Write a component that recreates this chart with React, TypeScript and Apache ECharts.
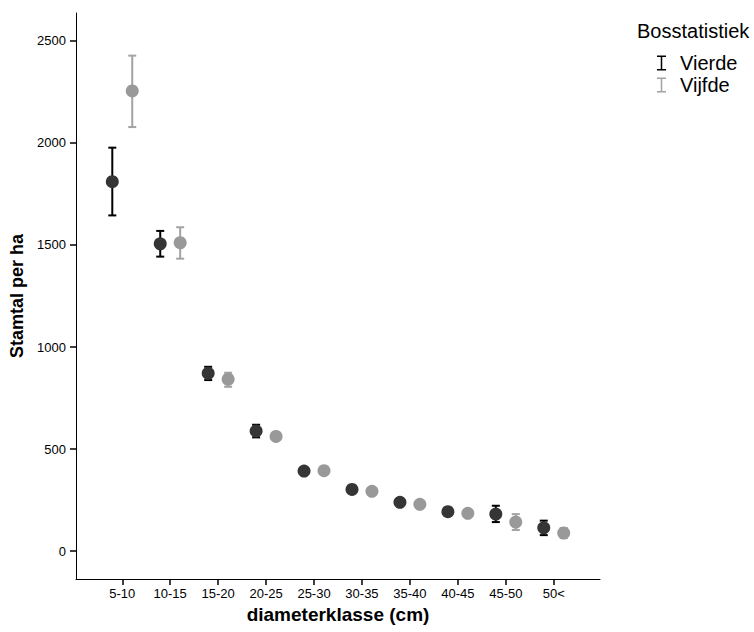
import React, { useEffect, useRef } from "react";
import * as echarts from "echarts";

const categories = ["5-10", "10-15", "15-20", "20-25", "25-30", "30-35", "35-40", "40-45", "45-50", "50<"];
const yTicks = [0, 500, 1000, 1500, 2000, 2500];

const vierdeMean = [1810, 1506, 871, 588, 392, 302, 239, 193, 181, 114];
const vierdeLow = [1645, 1443, 838, 557, 382, 292, 222, 183, 142, 78];
const vierdeHigh = [1977, 1569, 903, 619, 402, 312, 256, 203, 222, 149];

const vijfdeMean = [2255, 1511, 842, 562, 394, 293, 229, 185, 142, 88];
const vijfdeLow = [2078, 1433, 805, 550, 384, 283, 212, 172, 103, 64];
const vijfdeHigh = [2428, 1587, 874, 574, 404, 303, 246, 198, 181, 113];

const OFFSET = 0.208;
const FONT = "'Liberation Sans', Arial, sans-serif";

function errorRender(color: string) {
  return (params: any, api: any) => {
    const x = api.value(0);
    const lo = api.coord([x, api.value(1)]);
    const hi = api.coord([x, api.value(2)]);
    const w = 4;
    const style = { stroke: color, lineWidth: 2 };
    return {
      type: "group",
      children: [
        { type: "line", shape: { x1: lo[0], y1: lo[1], x2: hi[0], y2: hi[1] }, style },
        { type: "line", shape: { x1: lo[0] - w, y1: lo[1], x2: lo[0] + w, y2: lo[1] }, style },
        { type: "line", shape: { x1: hi[0] - w, y1: hi[1], x2: hi[0] + w, y2: hi[1] }, style },
      ],
    };
  };
}

const ibeam = "path://M0,0H9V1.5H5.25V13.5H9V15H0V13.5H3.75V1.5H0Z";

export default function App() {
  const ref = useRef<HTMLDivElement>(null);
  useEffect(() => {
    if (!ref.current) return;
    const chart = echarts.init(ref.current, undefined, { renderer: "svg" });
    const vierdeBars = categories.map((_, i) => [i - OFFSET, vierdeLow[i], vierdeHigh[i]]);
    const vijfdeBars = categories.map((_, i) => [i + OFFSET, vijfdeLow[i], vijfdeHigh[i]]);
    const vierdePts = categories.map((_, i) => [i - OFFSET, vierdeMean[i]]);
    const vijfdePts = categories.map((_, i) => [i + OFFSET, vijfdeMean[i]]);
    chart.setOption({
      animation: false,
      backgroundColor: "#ffffff",
      textStyle: { fontFamily: FONT },
      title: {
        text: "Bosstatistiek",
        left: 637,
        top: 21,
        padding: 0,
        textStyle: { fontSize: 20, fontWeight: "normal", color: "#000", fontFamily: FONT, lineHeight: 20 },
      },
      legend: {
        orient: "vertical",
        left: 657,
        top: 53,
        padding: 0,
        itemGap: 2,
        itemWidth: 9,
        itemHeight: 15,
        selectedMode: false,
        data: [
          { name: "Vierde", icon: ibeam },
          { name: "Vijfde", icon: ibeam },
        ],
        textStyle: { fontSize: 20, color: "#000", fontFamily: FONT, lineHeight: 20, padding: [0, 0, 0, 9] },
      },
      grid: { left: 74, right: 154, top: 13, bottom: 53, containLabel: false },
      xAxis: {
        type: "value",
        min: -0.965,
        max: 9.965,
        name: "diameterklasse (cm)",
        nameLocation: "middle",
        nameGap: 23,
        nameTextStyle: { fontSize: 19, fontWeight: "bold", color: "#000", fontFamily: FONT, verticalAlign: "top" },
        splitLine: { show: false },
        axisLine: { show: true, onZero: false, lineStyle: { color: "#000", width: 1 } },
        axisTick: { show: true, length: 6, lineStyle: { color: "#000", width: 1.5 }, customValues: categories.map((_, i) => i) },
        axisLabel: {
          fontSize: 13,
          color: "#000",
          margin: 8,
          fontFamily: FONT,
          customValues: categories.map((_, i) => i),
          formatter: (v: number) => categories[Math.round(v)] ?? "",
        },
      },
      yAxis: {
        type: "value",
        min: -137,
        max: 2637,
        name: "Stamtal per ha",
        nameLocation: "middle",
        nameGap: 50,
        nameRotate: 90,
        nameTextStyle: { fontSize: 18, fontWeight: "bold", color: "#000", fontFamily: FONT },
        splitLine: { show: false },
        axisLine: { show: true, onZero: false, lineStyle: { color: "#000", width: 1 } },
        axisTick: { show: true, length: 6, lineStyle: { color: "#000", width: 1.5 }, customValues: yTicks },
        axisLabel: {
          fontSize: 13,
          color: "#000",
          margin: 10,
          fontFamily: FONT,
          customValues: yTicks,
          formatter: (v: number) => String(v),
        },
      },
      series: [
        {
          name: "Vierde",
          type: "custom",
          renderItem: errorRender("#000000"),
          itemStyle: { color: "#000000" },
          encode: { x: 0, y: [1, 2] },
          data: vierdeBars,
          z: 2,
        },
        {
          name: "Vijfde",
          type: "custom",
          renderItem: errorRender("#a3a3a3"),
          itemStyle: { color: "#a3a3a3" },
          encode: { x: 0, y: [1, 2] },
          data: vijfdeBars,
          z: 2,
        },
        {
          name: "Vierde gemiddelde",
          type: "scatter",
          symbol: "circle",
          symbolSize: 13,
          itemStyle: { color: "#353535", opacity: 1 },
          data: vierdePts,
          z: 3,
        },
        {
          name: "Vijfde gemiddelde",
          type: "scatter",
          symbol: "circle",
          symbolSize: 13,
          itemStyle: { color: "#999999", opacity: 1 },
          data: vijfdePts,
          z: 3,
        },
      ],
    });
    return () => chart.dispose();
  }, []);
  return <div ref={ref} style={{ position: "fixed", left: 0, top: 0, width: 754, height: 632 }} />;
}
